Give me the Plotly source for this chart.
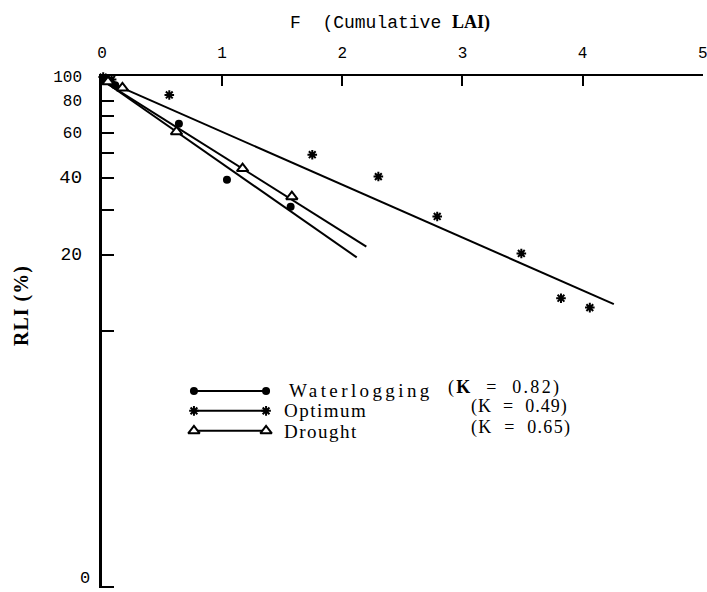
import plotly.graph_objects as go

# ---- data ----
water_F = [0.02, 0.11, 0.64, 1.04, 1.57]
water_RLI = [97, 92, 65.0, 39.3, 30.8]

optimum_F = [0.01, 0.08, 0.56, 1.75, 2.30, 2.79, 3.49, 3.82, 4.06]
optimum_RLI = [99, 97, 84.3, 49.2, 40.4, 28.2, 20.2, 13.5, 12.4]

drought_F = [0.05, 0.17, 0.62, 1.17, 1.58]
drought_RLI = [95, 89.8, 60.5, 43.4, 33.7]

# fitted lines (end points)
water_fit_F = [0.05, 2.12]
water_fit_RLI = [93, 19.5]
drought_fit_F = [0.05, 2.20]
drought_fit_RLI = [93, 21.5]
optimum_fit_F = [0.05, 4.26]
optimum_fit_RLI = [95, 12.8]

x_ticks = [0, 1, 2, 3, 4, 5]
y_tickvals = [1, 10, 20, 30, 40, 50, 60, 70, 80, 100]
y_ticktext = ['', '', '<span style="font-size:18px">20</span>', '',
              '<span style="font-size:19px">40</span>', '', '60', '', '80', '100']
y_bottom_label = '0'

legend_names = ['Waterlogging', 'Optimum', 'Drought']
legend_k = ['(<b>K</b>  =  0.82)', '(K  =  0.49)', '(K  =  0.65)']

fig = go.Figure()

line_style = dict(color='black', width=2)
star_marker = dict(symbol='asterisk', size=8, color='black',
                   line=dict(color='black', width=2))

for fx, fy in [(water_fit_F, water_fit_RLI), (drought_fit_F, drought_fit_RLI),
               (optimum_fit_F, optimum_fit_RLI)]:
    fig.add_trace(go.Scatter(x=fx, y=fy, mode='lines', line=line_style,
                             showlegend=False, hoverinfo='skip'))

fig.add_trace(go.Scatter(x=water_F, y=water_RLI, mode='markers',
                         marker=dict(symbol='circle', size=8, color='black'),
                         showlegend=False, cliponaxis=False))
fig.add_trace(go.Scatter(x=optimum_F, y=optimum_RLI, mode='markers',
                         marker=star_marker, showlegend=False, cliponaxis=False))
fig.add_trace(go.Scatter(x=drought_F, y=drought_RLI, mode='markers',
                         marker=dict(symbol='triangle-up', size=10, color='white',
                                     line=dict(color='black', width=2)),
                         showlegend=False, cliponaxis=False))

# ---- hand-made legend on an overlay axis (0..1 paper-like) ----
leg_x = [0.153, 0.273]
leg_y = [0.385, 0.346, 0.307]
leg_markers = [
    dict(symbol='circle', size=8, color='black'),
    star_marker,
    dict(symbol='triangle-up', size=10, color='white', line=dict(color='black', width=2)),
]
for yy, mk in zip(leg_y, leg_markers):
    fig.add_trace(go.Scatter(x=leg_x, y=[yy, yy], mode='lines+markers',
                             line=line_style, marker=mk, xaxis='x2', yaxis='y2',
                             showlegend=False, hoverinfo='skip', cliponaxis=False))

name_x = [0.308, 0.300, 0.300]
name_y = [0.386, 0.347, 0.306]
name_sp = [3.4, 1.5, 1.5]
for nm, xx, yy, sp in zip(legend_names, name_x, name_y, name_sp):
    fig.add_annotation(x=xx, y=yy, xref='paper', yref='paper', xanchor='left',
                       yanchor='middle', showarrow=False,
                       text=f'<span style="letter-spacing:{sp}px">{nm}</span>',
                       font=dict(family='Liberation Serif', size=19, color='black'))

k_x = [0.572, 0.611, 0.611]
k_y = [0.391, 0.355, 0.313]
k_sp = [2.3, 1, 1.3]
for kt, xx, yy, sp in zip(legend_k, k_x, k_y, k_sp):
    fig.add_annotation(x=xx, y=yy, xref='paper', yref='paper', xanchor='left',
                       yanchor='middle', showarrow=False,
                       text=f'<span style="letter-spacing:{sp}px">{kt}</span>',
                       font=dict(family='Liberation Serif', size=18, color='black'))

# bottom y label (kept inside the page, as in the original)
fig.add_annotation(x=0, y=0, xref='paper', yref='paper', xanchor='right',
                   yanchor='middle', xshift=-10, yshift=10, showarrow=False,
                   text=y_bottom_label,
                   font=dict(family='Liberation Mono', size=17, color='black'))

# axis titles
fig.add_annotation(x=0.3095, y=1.105, xref='paper', yref='paper', xanchor='left',
                   yanchor='middle', showarrow=False,
                   text='F  (Cumulative <span style="font-family:Liberation Serif;font-weight:bold">LAI)</span>',
                   font=dict(family='Liberation Mono', size=18, color='black'))
fig.add_annotation(x=-0.133, y=0.551, xref='paper', yref='paper', xanchor='center',
                   yanchor='middle', showarrow=False, textangle=-90,
                   text='<span style="letter-spacing:1px"><b>RLI (%)</b></span>',
                   font=dict(family='Liberation Serif', size=20, color='black'))

fig.update_layout(
    width=707, height=592,
    margin=dict(l=102, r=4, t=76, b=4, autoexpand=False),
    paper_bgcolor='white', plot_bgcolor='white',
    xaxis=dict(side='top', range=[0, 5.002], tickvals=x_ticks,
               ticks='inside', ticklen=10, tickwidth=2, tickcolor='black',
               showline=True, linewidth=2, linecolor='black',
               showgrid=False, zeroline=False, ticklabelstandoff=10,
               ticklabeloverflow='allow', automargin=False,
               tickfont=dict(family='Liberation Mono', size=16, color='black')),
    yaxis=dict(type='log', range=[-0.004, 2], tickvals=y_tickvals, ticktext=y_ticktext,
               ticks='inside', ticklen=12, tickwidth=2, tickcolor='black',
               showline=True, linewidth=2.5, linecolor='black',
               showgrid=False, zeroline=False, ticklabelstandoff=14,
               ticklabeloverflow='allow', automargin=False,
               tickfont=dict(family='Liberation Mono', size=16, color='black')),
    xaxis2=dict(range=[0, 1], overlaying='x', visible=False, fixedrange=True),
    yaxis2=dict(range=[0, 1], overlaying='y', visible=False, fixedrange=True),
    showlegend=False,
)

fig.write_html("out.html")
